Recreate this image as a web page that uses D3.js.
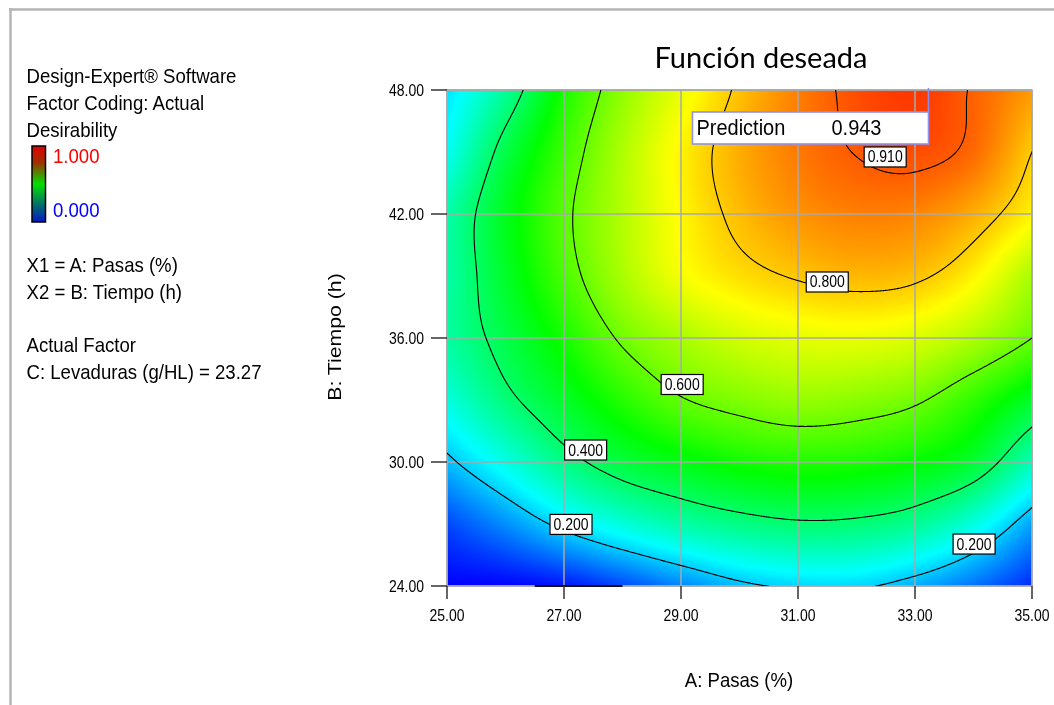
<!DOCTYPE html>
<html>
<head>
<meta charset="utf-8">
<script src="https://cdn.jsdelivr.net/npm/d3@7"></script>
<style>
  html, body { margin: 0; padding: 0; background: #fff; }
  #wrap { position: relative; width: 1054px; height: 705px; overflow: hidden; background: #fff; }
  #wrap canvas, #wrap svg { position: absolute; left: 0; top: 0; }
</style>
</head>
<body>
<div id="wrap">
  <canvas id="heat" width="1054" height="705"></canvas>
  <svg id="chart" width="1054" height="705"></svg>
</div>
<script>
// ---- data -------------------------------------------------------------
// Factor levels at which the desirability surface is tabulated
const pasasLevels  = [25, 26, 27, 28, 29, 30, 31, 32, 33, 34, 35];   // A: Pasas (%)
const tiempoLevels = [24, 27, 30, 33, 36, 39, 42, 45, 48];           // B: Tiempo (h)

// Desirability, one row per tiempo level (values across pasasLevels)
const desT24 = [0.00, 0.00, 0.02, 0.07, 0.13, 0.185, 0.21, 0.21, 0.17, 0.11, 0.04];
const desT27 = [0.07, 0.14, 0.22, 0.285, 0.335, 0.37, 0.39, 0.385, 0.355, 0.28, 0.16];
const desT30 = [0.185, 0.275, 0.37, 0.44, 0.48, 0.515, 0.53, 0.525, 0.50, 0.45, 0.32];
const desT33 = [0.28, 0.38, 0.46, 0.535, 0.595, 0.625, 0.645, 0.635, 0.61, 0.545, 0.46];
const desT36 = [0.34, 0.43, 0.52, 0.61, 0.665, 0.705, 0.725, 0.73, 0.715, 0.67, 0.60];
const desT39 = [0.335, 0.46, 0.57, 0.665, 0.74, 0.78, 0.805, 0.82, 0.81, 0.76, 0.665];
const desT42 = [0.33, 0.47, 0.585, 0.675, 0.755, 0.815, 0.855, 0.875, 0.87, 0.83, 0.76];
const desT45 = [0.26, 0.43, 0.56, 0.67, 0.76, 0.83, 0.88, 0.912, 0.925, 0.895, 0.80];
const desT48 = [0.22, 0.35, 0.52, 0.64, 0.73, 0.81, 0.875, 0.925, 0.945, 0.905, 0.85];
const desirabilityRows = [desT24, desT27, desT30, desT33, desT36, desT39, desT42, desT45, desT48];

const contourLevels = [0.2, 0.4, 0.6, 0.8, 0.91];
const pasasTicks  = [25, 27, 29, 31, 33, 35];
const tiempoTicks = [24, 30, 36, 42, 48];

// Flagged optimum
const prediction = { pasas: 33.23, tiempo: 48, value: 0.943 };

// Contour label anchors (box centres, in factor units)
const contourLabelSpots = [
  { level: 0.91, pasas: 32.49, tiempo: 44.76 },
  { level: 0.80, pasas: 31.50, tiempo: 38.71 },
  { level: 0.60, pasas: 29.02, tiempo: 33.75 },
  { level: 0.40, pasas: 27.37, tiempo: 30.58 },
  { level: 0.20, pasas: 27.12, tiempo: 26.98 },
  { level: 0.20, pasas: 34.01, tiempo: 26.03 }
];

// Short run where the surface touches zero along the lower edge
const zeroEdgeRun = [26.5, 28.0];

const legendText = [
  "Design-Expert\u00AE Software",
  "Factor Coding: Actual",
  "Desirability"
];
const factorText = ["X1 = A: Pasas (%)", "X2 = B: Tiempo (h)"];
const actualFactorText = ["Actual Factor", "C: Levaduras (g/HL) = 23.27"];

// ---- layout -----------------------------------------------------------
const plot = { left: 447, top: 90, right: 1032, bottom: 586 };
const W = plot.right - plot.left, H = plot.bottom - plot.top;
const STRETCH = 1.13;              // tall, narrow lettering of the original export
const FONT = "'Liberation Sans', Arial, sans-serif";

const x = d3.scaleLinear().domain([25, 35]).range([plot.left, plot.right]);
const y = d3.scaleLinear().domain([24, 48]).range([plot.bottom, plot.top]);

const colour = d3.scaleLinear()
  .domain([0, 0.25, 0.5, 0.75, 1])
  .range(["#0000ff", "#00ffff", "#00ff00", "#ffff00", "#ff0000"])
  .clamp(true);

// ---- smooth surface from the tabulated grid (Catmull-Rom) --------------
const nA = pasasLevels.length, nB = tiempoLevels.length;
const dA = pasasLevels[1] - pasasLevels[0];
const dB = tiempoLevels[1] - tiempoLevels[0];

function cell(i, j) {
  // linear extension one step past the table edge
  if (i < 0) return 2 * cell(0, j) - cell(1, j);
  if (i >= nA) return 2 * cell(nA - 1, j) - cell(nA - 2, j);
  if (j < 0) return 2 * cell(i, 0) - cell(i, 1);
  if (j >= nB) return 2 * cell(i, nB - 1) - cell(i, nB - 2);
  return desirabilityRows[j][i];
}
function cr(p0, p1, p2, p3, t) {
  return 0.5 * (2 * p1 + (-p0 + p2) * t + (2 * p0 - 5 * p1 + 4 * p2 - p3) * t * t +
    (-p0 + 3 * p1 - 3 * p2 + p3) * t * t * t);
}
function desirability(a, b) {
  let u = (a - pasasLevels[0]) / dA, v = (b - tiempoLevels[0]) / dB;
  let i = Math.floor(u), j = Math.floor(v);
  i = Math.max(0, Math.min(nA - 2, i));
  j = Math.max(0, Math.min(nB - 2, j));
  const tu = u - i, tv = v - j;
  const col = [];
  for (let m = -1; m <= 2; m++) {
    col.push(cr(cell(i - 1, j + m), cell(i, j + m), cell(i + 1, j + m), cell(i + 2, j + m), tu));
  }
  return Math.max(0, Math.min(1, cr(col[0], col[1], col[2], col[3], tv)));
}

// ---- colour field on canvas ------------------------------------------
const ctx = document.getElementById("heat").getContext("2d");
const lut = d3.range(1001).map(k => d3.rgb(colour(k / 1000)));
const img = ctx.createImageData(W, H);
for (let py = 0; py < H; py++) {
  const b = y.invert(plot.top + py + 0.5);
  for (let px = 0; px < W; px++) {
    const a = x.invert(plot.left + px + 0.5);
    const c = lut[Math.round(desirability(a, b) * 1000)];
    const o = (py * W + px) * 4;
    img.data[o] = c.r; img.data[o + 1] = c.g; img.data[o + 2] = c.b; img.data[o + 3] = 255;
  }
}
ctx.putImageData(img, plot.left, plot.top);

// ---- svg overlay -----------------------------------------------------
const svg = d3.select("#chart");

// helper: text with the original's vertical stretch
function stext(parent, px, py, str, size, opts = {}) {
  const rot = opts.rotate ? ` rotate(${opts.rotate})` : "";
  const g = parent.append("g").attr("transform", `translate(${px},${py}) scale(1,${STRETCH})${rot}`);
  return g.append("text")
    .attr("font-family", FONT)
    .attr("font-size", size)
    .attr("fill", opts.fill || "#000")
    .attr("text-anchor", opts.anchor || "start")
    .text(str);
}

// page frame
svg.append("line").attr("x1", 9).attr("x2", 1054).attr("y1", 9.5).attr("y2", 9.5)
  .attr("stroke", "#b4b4b4").attr("stroke-width", 2.5);
svg.append("line").attr("x1", 10.5).attr("x2", 10.5).attr("y1", 8).attr("y2", 705)
  .attr("stroke", "#b4b4b4").attr("stroke-width", 2.5);

// grid
const grid = svg.append("g").attr("stroke", "#a8a8a8").attr("stroke-width", 1.5);
grid.selectAll(".gx").data(pasasTicks).join("line")
  .attr("x1", d => x(d)).attr("x2", d => x(d)).attr("y1", plot.top).attr("y2", plot.bottom);
grid.selectAll(".gy").data(tiempoTicks).join("line")
  .attr("x1", plot.left).attr("x2", plot.right).attr("y1", d => y(d)).attr("y2", d => y(d));
svg.append("rect").attr("x", plot.left).attr("y", plot.top).attr("width", W).attr("height", H)
  .attr("fill", "none").attr("stroke", "#a8a8a8").attr("stroke-width", 1.5);

// contour lines
svg.append("clipPath").attr("id", "plotClip").append("rect")
  .attr("x", plot.left).attr("y", plot.top).attr("width", W).attr("height", H);
const pad = 2, CW = W + 2 * pad, CH = H + 2 * pad;
const field = new Float64Array(CW * CH);
for (let j = 0; j < CH; j++) {
  const b = y.invert(plot.top - pad + j + 0.5);
  for (let i = 0; i < CW; i++) {
    field[j * CW + i] = desirability(x.invert(plot.left - pad + i + 0.5), b);
  }
}
const contours = d3.contours().size([CW, CH]).thresholds(contourLevels)(field);
svg.append("g").attr("clip-path", "url(#plotClip)")
  .append("g").attr("transform", `translate(${plot.left - pad},${plot.top - pad})`)
  .selectAll("path").data(contours).join("path")
  .attr("d", d3.geoPath())
  .attr("fill", "none").attr("stroke", "#000").attr("stroke-width", 1.1);

// lower-edge run
svg.append("line")
  .attr("x1", x(zeroEdgeRun[0])).attr("x2", x(zeroEdgeRun[1]))
  .attr("y1", plot.bottom).attr("y2", plot.bottom)
  .attr("stroke", "#111").attr("stroke-width", 2);

// contour labels
const fmt3 = d3.format(".3f");
contourLabelSpots.forEach(s => {
  const cx = x(s.pasas), cy = y(s.tiempo);
  svg.append("rect").attr("x", cx - 21).attr("y", cy - 10).attr("width", 42).attr("height", 20)
    .attr("fill", "#fff").attr("stroke", "#000").attr("stroke-width", 1.2);
  stext(svg, cx, cy + 5.5, fmt3(s.level), 14, { anchor: "middle" });
});

// axes ticks
const fmt2 = d3.format(".2f");
const ticks = svg.append("g").attr("stroke", "#333").attr("stroke-width", 1.5);
ticks.selectAll(".ty").data(tiempoTicks).join("line")
  .attr("x1", plot.left - 16).attr("x2", plot.left).attr("y1", d => y(d)).attr("y2", d => y(d));
ticks.selectAll(".tx").data(pasasTicks).join("line")
  .attr("x1", d => x(d)).attr("x2", d => x(d)).attr("y1", plot.bottom).attr("y2", plot.bottom + 13);
tiempoTicks.forEach(t => stext(svg, plot.left - 23, y(t) + 6, fmt2(t), 14, { anchor: "end" }));
pasasTicks.forEach(p => stext(svg, x(p), plot.bottom + 35, fmt2(p), 14, { anchor: "middle" }));

// axis titles
stext(svg, 739, 687, "A: Pasas (%)", 18.6, { anchor: "middle" });
stext(svg, 341, 337, "B: Tiempo (h)", 18.8, { anchor: "middle", rotate: -90 });

// title
svg.append("text").attr("x", 761).attr("y", 68).attr("text-anchor", "middle")
  .attr("font-family", "Lato, 'Open Sans', sans-serif").attr("font-size", 29)
  .attr("fill", "#000").text("Función deseada");

// prediction flag
const px0 = x(prediction.pasas);
svg.append("line").attr("x1", px0).attr("x2", px0).attr("y1", y(prediction.tiempo) - 2).attr("y2", plot.top + 22)
  .attr("stroke", "#8c8cf0").attr("stroke-width", 1.5);
svg.append("rect").attr("x", px0 - 236).attr("y", plot.top + 22).attr("width", 236).attr("height", 32)
  .attr("fill", "#fff").attr("stroke", "#9090f0").attr("stroke-width", 1.6);
stext(svg, px0 - 232, plot.top + 45, "Prediction", 20);
stext(svg, px0 - 97, plot.top + 45, fmt3(prediction.value), 20);

// left legend
legendText.forEach((t, k) => stext(svg, 26.5, 82.5 + k * 27.2, t, 18.6));
const grad = svg.append("defs").append("linearGradient").attr("id", "desGrad")
  .attr("x1", 0).attr("x2", 0).attr("y1", 0).attr("y2", 1);
[["0%", "#e00000"], ["22%", "#a03000"], ["50%", "#00e000"], ["78%", "#006c6c"], ["100%", "#0018c8"]]
  .forEach(([o, c]) => grad.append("stop").attr("offset", o).attr("stop-color", c));
svg.append("rect").attr("x", 32).attr("y", 146).attr("width", 13.5).attr("height", 76)
  .attr("fill", "url(#desGrad)").attr("stroke", "#000").attr("stroke-width", 1.5);
stext(svg, 53, 163, fmt3(1), 18.6, { fill: "#ff0000" });
stext(svg, 53, 217, fmt3(0), 18.6, { fill: "#0000ff" });
factorText.forEach((t, k) => stext(svg, 26.5, 272 + k * 26.5, t, 18.6));
actualFactorText.forEach((t, k) => stext(svg, 26.5, 352 + k * 26.5, t, 18.6));
</script>
</body>
</html>
